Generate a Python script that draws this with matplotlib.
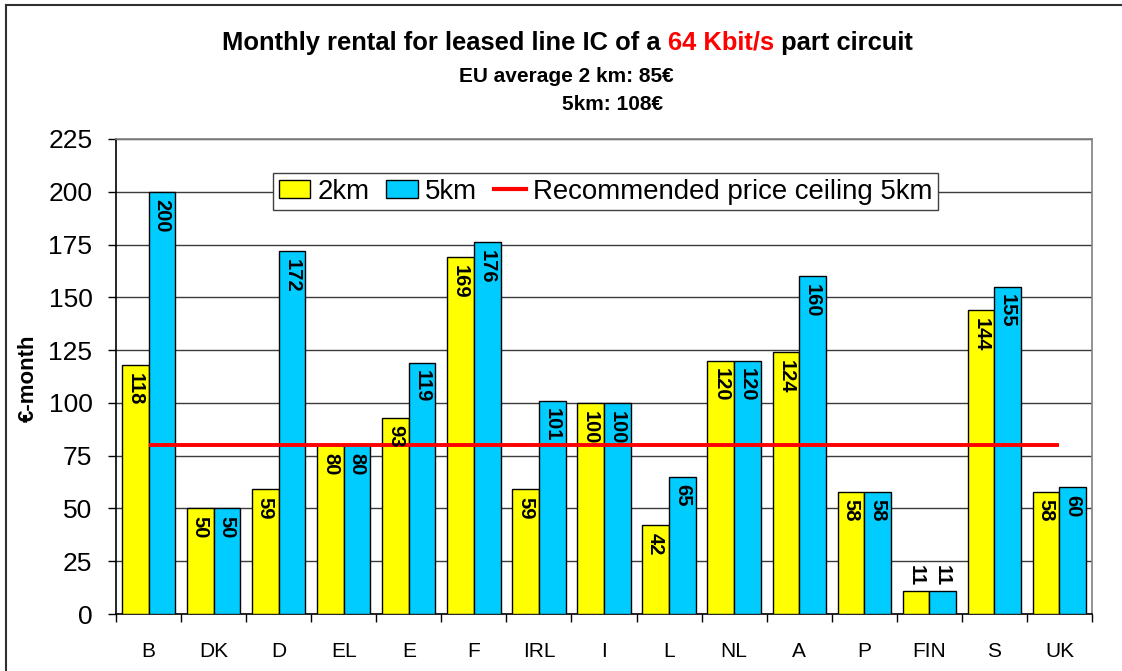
import matplotlib

matplotlib.use("Agg")
import matplotlib.pyplot as plt
import numpy as np
from matplotlib import font_manager
from matplotlib.lines import Line2D
from matplotlib.patches import Patch

countries = ["B", "DK", "D", "EL", "E", "F", "IRL", "I", "L", "NL", "A", "P", "FIN", "S", "UK"]
km2 = [118, 50, 59, 80, 93, 169, 59, 100, 42, 120, 124, 58, 11, 144, 58]
km5 = [200, 50, 172, 80, 119, 176, 101, 100, 65, 120, 160, 58, 11, 155, 60]
ceiling_5km = 80
yticks = [0, 25, 50, 75, 100, 125, 150, 175, 200, 225]

YELLOW = "#FFFF00"
CYAN = "#00CCFF"
RED = "#FF0000"
GRID = "#3C3C3C"

W, H = 1122, 671
names = {f.name for f in font_manager.fontManager.ttflist}
REG = "Liberation Sans" if "Liberation Sans" in names else "DejaVu Sans"
NARROW = "Liberation Sans Narrow" if "Liberation Sans Narrow" in names else REG


def fx(px):
    return px / W


def fy(py):
    return 1 - py / H


fig = plt.figure(figsize=(W / 100, H / 100), dpi=100)
fig.patch.set_facecolor("white")
ax = fig.add_axes([fx(116), fy(614), fx(1092) - fx(116), fy(139) - fy(614)])

x = np.arange(len(countries))
bw = 0.41
ax.bar(x - bw / 2, km2, bw, color=YELLOW, edgecolor="black", lw=1.0, zorder=3)
ax.bar(x + bw / 2, km5, bw, color=CYAN, edgecolor="black", lw=1.0, zorder=3)
ax.plot([x[0], x[-1]], [ceiling_5km, ceiling_5km], color=RED, lw=2.8, zorder=4,
        solid_capstyle="butt")

# value labels, rotated, inside the top of the bar unless the bar is too short
for xs, vals in ((x - bw / 2, km2), (x + bw / 2, km5)):
    for xi, v in zip(xs, vals):
        if v >= 20:
            ax.annotate(str(v), (xi, v), xytext=(0, -5.5), textcoords="offset points",
                        rotation=270, ha="center", va="top", fontsize=14.5,
                        fontweight="bold", family=NARROW, zorder=5)
        else:
            ax.annotate(str(v), (xi, v), xytext=(0, 3.5), textcoords="offset points",
                        rotation=270, ha="center", va="bottom", fontsize=14.5,
                        fontweight="bold", family=NARROW, zorder=5)

ax.set_xlim(-0.5, len(countries) - 0.5)
ax.set_ylim(0, 225)
ax.set_yticks(yticks)
ax.set_yticklabels([str(t) for t in yticks], family=REG, fontsize=19)
ax.yaxis.grid(True, color=GRID, lw=1.0, zorder=0)
ax.set_axisbelow(True)
ax.tick_params(axis="y", length=6, width=1, pad=11, color="black")

ax.set_xticks(np.arange(len(countries) + 1) - 0.5)
ax.set_xticklabels([])
ax.set_xticks(x, minor=True)
ax.set_xticklabels(countries, minor=True, family=REG, fontsize=15)
ax.tick_params(axis="x", which="major", length=6, width=1, color="black")
ax.tick_params(axis="x", which="minor", length=0, pad=20)

for side in ("left", "bottom"):
    ax.spines[side].set_color("black")
    ax.spines[side].set_linewidth(1.2)
for side in ("top", "right"):
    ax.spines[side].set_color("#808080")
    ax.spines[side].set_linewidth(1.2)

handles = [
    Patch(facecolor=YELLOW, edgecolor="black", lw=1.0, label="2km"),
    Patch(facecolor=CYAN, edgecolor="black", lw=1.0, label="5km"),
    Line2D([0], [0], color=RED, lw=3, label="Recommended price ceiling 5km"),
]
leg = fig.legend(handles=handles, loc="upper left", bbox_to_anchor=(fx(273), fy(173)),
                 ncol=3, prop={"family": REG, "size": 19.9}, frameon=True, fancybox=False,
                 edgecolor="#404040", framealpha=1, borderpad=0.2, handlelength=1.15,
                 handleheight=0.62, handletextpad=0.25, columnspacing=0.62,
                 borderaxespad=0)
leg.get_frame().set_linewidth(1.0)
leg.set_zorder(10)

# title: black with red speed part
t1 = fig.text(fx(222), fy(43), "Monthly rental for leased line IC of a ", ha="left",
              va="center", fontsize=18.4, fontweight="bold", family=NARROW)
fig.canvas.draw()
bb = t1.get_window_extent()
t2 = fig.text(bb.x1 / W, fy(43), "64 Kbit/s", ha="left", va="center", fontsize=18.4,
              fontweight="bold", family=NARROW, color=RED)
bb2 = t2.get_window_extent()
fig.text(bb2.x1 / W, fy(43), " part circuit", ha="left", va="center", fontsize=18.4,
         fontweight="bold", family=NARROW)

fig.text(fx(566), fy(76), "EU average 2 km: 85€", ha="center", va="center",
         fontsize=15, fontweight="bold", family=NARROW)
fig.text(fx(613), fy(105), "5km: 108€", ha="center", va="center",
         fontsize=15, fontweight="bold", family=NARROW)

fig.text(fx(28), fy(378), "€-month", rotation=90, ha="center", va="center",
         fontsize=16, fontweight="bold", family=NARROW)

# outer chart frame (only left and top edges fall inside the picture)
fig.add_artist(Line2D([fx(6), fx(6)], [fy(5), 0], color="#303030", lw=1.5))
fig.add_artist(Line2D([fx(6), 1], [fy(5), fy(5)], color="#303030", lw=1.5))

fig.savefig("out.png", dpi=100, facecolor="white")
